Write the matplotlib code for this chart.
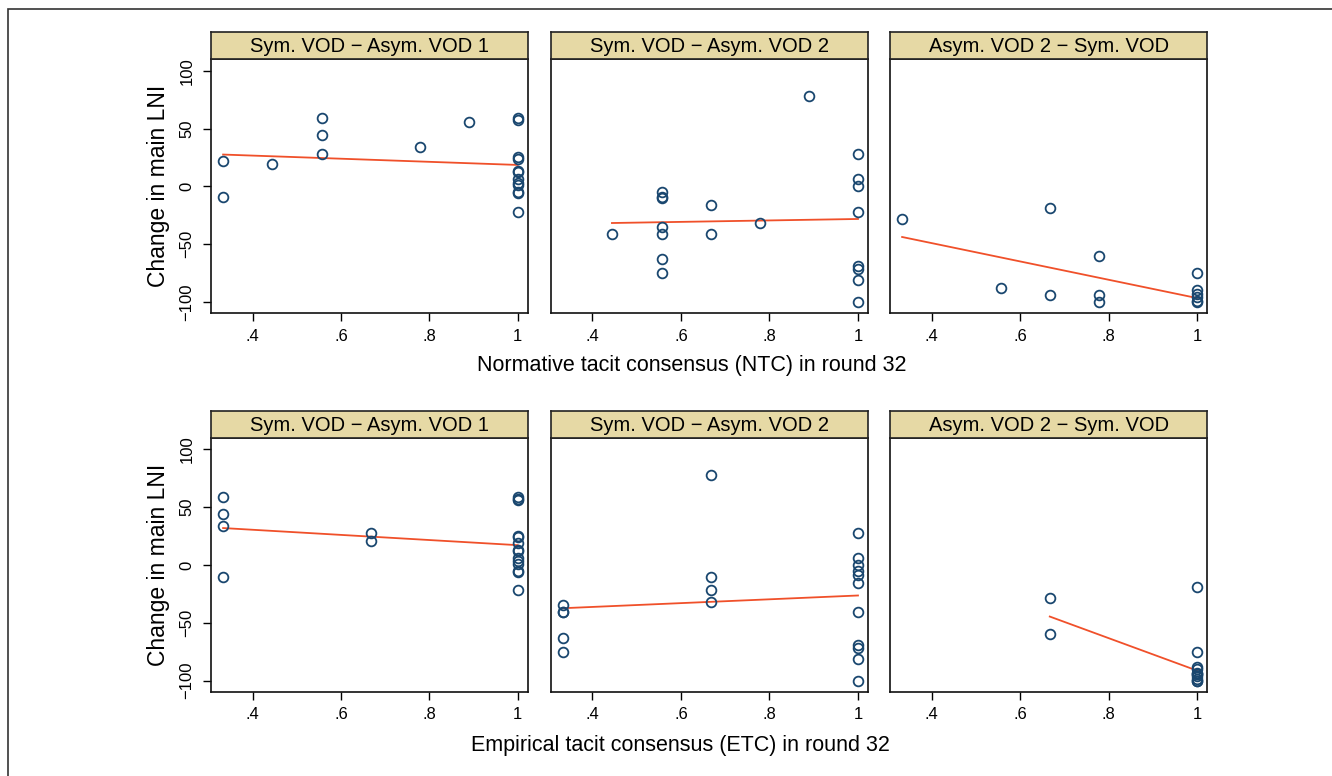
import numpy as np
import matplotlib
matplotlib.use("Agg")
import matplotlib.pyplot as plt
from matplotlib.patches import Rectangle

plt.rcParams["font.family"] = ["Liberation Sans", "DejaVu Sans"]

# ---- data ----
titles = ["Sym. VOD \u2212 Asym. VOD 1", "Sym. VOD \u2212 Asym. VOD 2", "Asym. VOD 2 \u2212 Sym. VOD"]
xlabels = ["Normative tacit consensus (NTC) in round 32", "Empirical tacit consensus (ETC) in round 32"]
xticks = [0.4, 0.6, 0.8, 1.0]
xtick_labels = [".4", ".6", ".8", "1"]
yticks = [-100, -50, 0, 50, 100]

# NTC row
ntc_a1_x = [0.333, 0.333, 0.444, 0.556, 0.556, 0.556, 0.778, 0.889] + [1] * 12
ntc_a1_y = [22, -9, 19, 59, 44, 28, 34, 56, 59, 57, 25, 24, 13, 12, 6, 3, 1, -5, -6, -22]
ntc_a2_x = [0.444] + [0.556] * 7 + [0.667] * 2 + [0.778, 0.889] + [1] * 8
ntc_a2_y = [-41, -5, -9, -10, -35, -41, -63, -75, -16, -41, -32, 78,
            28, 6, 0, -22, -69, -72, -81, -100]
ntc_s_x = [0.333, 0.556, 0.667, 0.667, 0.778, 0.778, 0.778] + [1] * 6
ntc_s_y = [-28, -88, -19, -94, -60, -94, -100, -75, -90, -93, -96, -99, -100]

# ETC row
etc_a1_x = [0.333] * 4 + [0.667] * 2 + [1] * 14
etc_a1_y = [59, 44, 34, -10, 28, 21, 59, 57, 56, 25, 24, 19, 13, 12, 6, 3, 1, -5, -6, -22]
etc_a2_x = [0.333] * 5 + [0.667] * 4 + [1] * 11
etc_a2_y = [-35, -41, -41, -63, -75, 78, -10, -22, -32,
            28, 6, 0, -5, -9, -16, -41, -69, -72, -81, -100]
etc_s_x = [0.667, 0.667] + [1] * 11
etc_s_y = [-29, -60, -19, -75, -88, -90, -93, -94, -94, -96, -99, -100, -100]

# linear fit lines (endpoints)
fit_ntc_a1 = ([0.333, 1], [27.5, 18.5])
fit_ntc_a2 = ([0.444, 1], [-31.8, -28.3])
fit_ntc_s = ([0.333, 1], [-43.9, -96.8])
fit_etc_a1 = ([0.333, 1], [31.9, 17.1])
fit_etc_a2 = ([0.333, 1], [-37.4, -26.4])
fit_etc_s = ([0.667, 1], [-44.6, -91.3])

panels = [
    [(ntc_a1_x, ntc_a1_y, fit_ntc_a1), (ntc_a2_x, ntc_a2_y, fit_ntc_a2), (ntc_s_x, ntc_s_y, fit_ntc_s)],
    [(etc_a1_x, etc_a1_y, fit_etc_a1), (etc_a2_x, etc_a2_y, fit_etc_a2), (etc_s_x, etc_s_y, fit_etc_s)],
]

W, H = 1332, 776
fig = plt.figure(figsize=(W / 100, H / 100), dpi=100)


def rect(l, t, r, b):
    return [l / W, 1 - b / H, (r - l) / W, (b - t) / H]


cols = [(211, 528), (550.7, 868.3), (890, 1207.3)]
rows = [(59.3, 313.3), (437.7, 692.2)]
strip_h = 27
xlab_pos = [(692, 365), (680, 745)]

navy = "#1a476f"
red = "#f0502a"
strip_col = "#e6d9a5"

for r, (top, bot) in enumerate(rows):
    for c, (left, right) in enumerate(cols):
        px, py, fit = panels[r][c]
        ax = fig.add_axes(rect(left, top, right, bot))
        ax.plot(px, py, "o", ms=7, mfc="none", mec=navy, mew=1.3, zorder=3)
        ax.plot(fit[0], fit[1], color=red, lw=1.3, zorder=2)
        ax.set_xlim(0.3056, 1.0233)
        ax.set_ylim(-110, 110)
        ax.set_xticks(xticks)
        ax.set_xticklabels(xtick_labels)
        ax.tick_params(axis="x", length=6, width=1, pad=5, labelsize=12)
        if c == 0:
            ax.set_yticks(yticks)
            ax.tick_params(axis="y", length=6, width=1, pad=6, labelsize=12,
                           labelrotation=90)
            for lab in ax.get_yticklabels():
                lab.set_va("center")
            ax.set_ylabel("Change in main LNI", fontsize=16.5, labelpad=7)
        else:
            ax.set_yticks([])
        for s in ax.spines.values():
            s.set_linewidth(1.2)
            s.set_color("#111111")

        sax = fig.add_axes(rect(left, top - strip_h, right, top))
        sax.set_facecolor(strip_col)
        sax.set_xticks([])
        sax.set_yticks([])
        for s in sax.spines.values():
            s.set_linewidth(1.2)
            s.set_color("#222222")
        sax.text(0.5, 0.47, titles[c], ha="center", va="center", fontsize=14.5,
                 transform=sax.transAxes)

    fig.text(xlab_pos[r][0] / W, 1 - xlab_pos[r][1] / H, xlabels[r],
             ha="center", va="center", fontsize=15.5)

fig.patches.append(Rectangle((8.3 / W, -0.1), 1.2, 1 - 9.3 / H + 0.1,
                             transform=fig.transFigure, fill=False,
                             lw=1.2, ec="#333333"))

fig.savefig("out.png", dpi=100)
